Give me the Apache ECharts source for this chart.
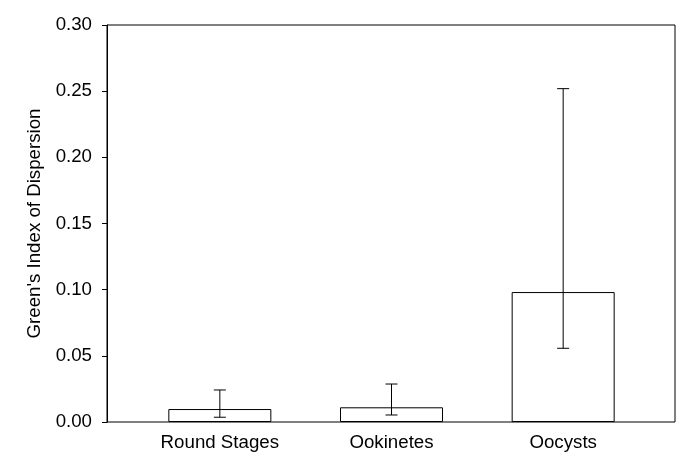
<!DOCTYPE html>
<html><head><meta charset="utf-8">
<script src="https://cdn.jsdelivr.net/npm/echarts@6/dist/echarts.min.js"></script>
<style>html,body{margin:0;padding:0;background:#fff}#c{width:685px;height:468px}</style>
</head><body><div id="c"></div>
<script>
var categories = ['Round Stages', 'Ookinetes', 'Oocysts'];
var means = [0.0098, 0.0111, 0.0982];
var errLow = [0.0036, 0.0053, 0.0557];
var errHigh = [0.0242, 0.0287, 0.2519];
var yTicks = [0, 0.05, 0.10, 0.15, 0.20, 0.25, 0.30];

var font = 'Liberation Sans, Arial, sans-serif';
var fs = 18.7;
var chart = echarts.init(document.getElementById('c'), null, {renderer: 'canvas'});
var errData = categories.map(function (c, i) { return [i, errLow[i], errHigh[i]]; });

chart.setOption({
  animation: false,
  backgroundColor: '#fff',
  grid: [
    {left: 107, right: 10, top: 25, bottom: 46, show: true, borderColor: '#000', borderWidth: 1, backgroundColor: 'transparent'},
    {left: 134, right: 36, top: 25, bottom: 46}
  ],
  xAxis: [
    {gridIndex: 0, type: 'value', show: false, min: 0, max: 1},
    {gridIndex: 1, type: 'category', data: categories,
     axisLine: {show: false}, axisTick: {show: false},
     axisLabel: {color: '#000', fontSize: fs, fontFamily: font, margin: 11}}
  ],
  yAxis: [
    {gridIndex: 0, type: 'value', min: yTicks[0], max: yTicks[yTicks.length - 1], interval: 0.05,
     name: "Green's Index of Dispersion", nameLocation: 'middle', nameGap: 62,
     nameTextStyle: {color: '#000', fontSize: fs, fontFamily: font},
     axisLine: {show: true, lineStyle: {color: '#000', width: 1}},
     axisTick: {show: true, length: 5, lineStyle: {color: '#000'}},
     splitLine: {show: false},
     axisLabel: {color: '#000', fontSize: fs, fontFamily: font, margin: 15,
       formatter: function (v) { return v.toFixed(2); }}},
    {gridIndex: 1, type: 'value', min: yTicks[0], max: yTicks[yTicks.length - 1], show: false}
  ],
  series: [
    {type: 'bar', xAxisIndex: 1, yAxisIndex: 1, data: means, barWidth: 103,
     itemStyle: {color: '#fff', borderColor: '#000', borderWidth: 1}},
    {type: 'custom', xAxisIndex: 1, yAxisIndex: 1, data: errData, z: 10,
     renderItem: function (params, api) {
       var x = api.value(0);
       var lo = api.coord([x, api.value(1)]);
       var hi = api.coord([x, api.value(2)]);
       var hw = 6;
       var st = {stroke: '#000', lineWidth: 1};
       return {type: 'group', children: [
         {type: 'line', shape: {x1: lo[0], y1: lo[1], x2: hi[0], y2: hi[1]}, style: st},
         {type: 'line', shape: {x1: lo[0] - hw, y1: lo[1], x2: lo[0] + hw, y2: lo[1]}, style: st},
         {type: 'line', shape: {x1: hi[0] - hw, y1: hi[1], x2: hi[0] + hw, y2: hi[1]}, style: st}
       ]};
     }}
  ]
});
</script></body></html>
